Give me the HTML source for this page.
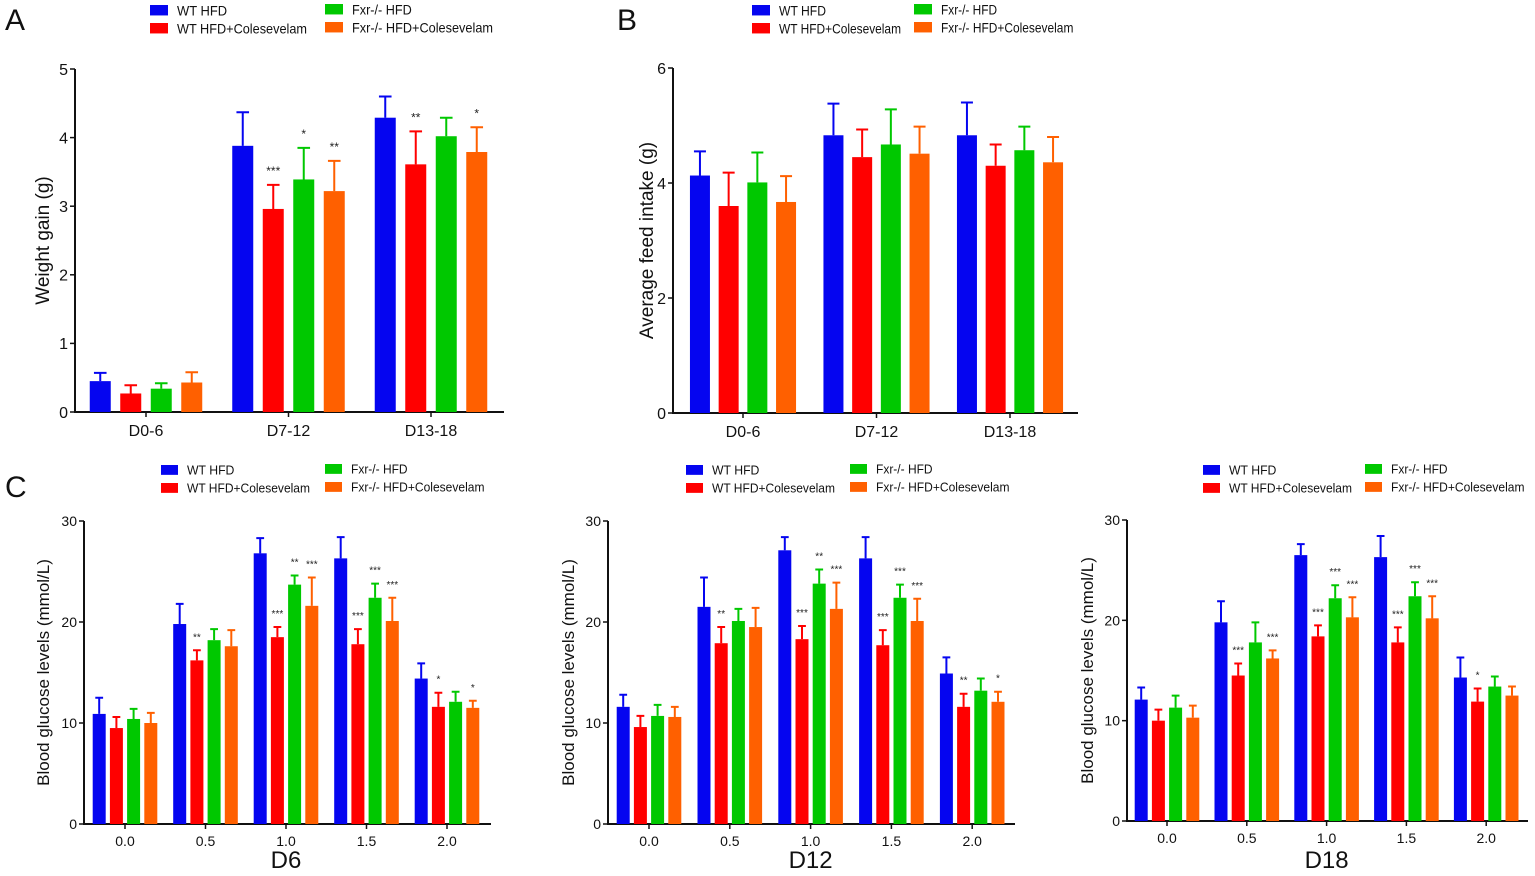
<!DOCTYPE html>
<html><head><meta charset="utf-8"><style>
html,body{margin:0;padding:0;background:#fff;}
svg{display:block;font-family:"Liberation Sans",Arial,sans-serif;}
</style></head><body>
<svg id="fig" width="1535" height="876" viewBox="0 0 1535 876" xmlns="http://www.w3.org/2000/svg"></svg>
<script>
const seriesNames = ["WT HFD","WT HFD+Colesevelam","Fxr-/- HFD","Fxr-/- HFD+Colesevelam"];
const seriesColors = ["#0505f0","#ff0000","#00c800","#ff6000"];

const aCategories = ["D0-6","D7-12","D13-18"];
const aMeans = [[0.45,3.88,4.29],[0.27,2.96,3.61],[0.34,3.39,4.02],[0.43,3.22,3.79]];
const aErrTop = [[0.57,4.37,4.60],[0.39,3.31,4.09],[0.42,3.85,4.29],[0.58,3.66,4.15]];
const aStars = [["","",""],["","***","**"],["","*",""],["","**","*"]];
const aTicks = [0,1,2,3,4,5];

const bCategories = ["D0-6","D7-12","D13-18"];
const bMeans = [[4.13,4.83,4.83],[3.60,4.45,4.30],[4.01,4.67,4.57],[3.67,4.51,4.36]];
const bErrTop = [[4.55,5.38,5.40],[4.18,4.93,4.67],[4.53,5.28,4.98],[4.12,4.98,4.80]];
const bStars = [["","",""],["","",""],["","",""],["","",""]];
const bTicks = [0,2,4,6];

const cCategories = ["0.0","0.5","1.0","1.5","2.0"];
const cTicks = [0,10,20,30];
const d6Means = [[10.9,19.8,26.8,26.3,14.4],[9.5,16.2,18.5,17.8,11.6],[10.4,18.2,23.7,22.4,12.1],[10.0,17.6,21.6,20.1,11.5]];
const d6ErrTop = [[12.5,21.8,28.3,28.4,15.9],[10.6,17.2,19.5,19.3,13.0],[11.4,19.3,24.6,23.8,13.1],[11.0,19.2,24.4,22.4,12.2]];
const d6Stars = [["","","","",""],["","**","***","***","*"],["","","**","***",""],["","","***","***","*"]];
const d12Means = [[11.6,21.5,27.1,26.3,14.9],[9.6,17.9,18.3,17.7,11.6],[10.7,20.1,23.8,22.4,13.2],[10.6,19.5,21.3,20.1,12.1]];
const d12ErrTop = [[12.8,24.4,28.4,28.4,16.5],[10.7,19.5,19.6,19.2,12.9],[11.8,21.3,25.2,23.7,14.4],[11.6,21.4,23.9,22.3,13.1]];
const d12Stars = [["","","","",""],["","**","***","***","**"],["","","**","***",""],["","","***","***","*"]];
const d18Means = [[12.1,19.8,26.5,26.3,14.3],[10.0,14.5,18.4,17.8,11.9],[11.3,17.8,22.2,22.4,13.4],[10.3,16.2,20.3,20.2,12.5]];
const d18ErrTop = [[13.3,21.9,27.6,28.4,16.3],[11.1,15.7,19.5,19.3,13.2],[12.5,19.8,23.5,23.8,14.4],[11.5,17.0,22.3,22.4,13.4]];
const d18Stars = [["","","","",""],["","***","***","***","*"],["","","***","***",""],["","***","***","***",""]];

const svg = document.getElementById('fig');
const NS = "http://www.w3.org/2000/svg";
function mk(tag, attrs, parent){
  const e = document.createElementNS(NS, tag);
  for (const k in attrs) e.setAttribute(k, attrs[k]);
  (parent||svg).appendChild(e); return e;
}
function txt(s, attrs, parent){ const t = mk('text', attrs, parent); t.textContent = s; return t; }

const legendRel = [0.385, 1.0, 0.46, 1.085];

function legend(bx, gx, ty, sq, fs, wLong, key){
  const g = mk('g', {});
  
  
  for (let i=0;i<4;i++){
    const x = i<2 ? bx : gx;
    const y = ty + (i%2===1 ? 18 : 0) - (i>=2 ? 1 : 0);
    const e = mk('g', {}, g);
    
    
    const h = sq*0.58;
    mk('rect', {x:x, y:y, width:sq, height:h, fill:seriesColors[i]}, e);
    txt(seriesNames[i], {x:x+sq+9, y:y+h/2+fs*0.36, 'font-size':fs, fill:'#111',
      textLength:(wLong*legendRel[i]).toFixed(1), lengthAdjust:'spacingAndGlyphs'}, e);
  }
}

function chart(o){
  const g = mk('g', {});
  
  
  const ymax = o.ticks[o.ticks.length-1];
  const yS = v => o.y0 - (o.y0 - o.yTop) * v / ymax;
  const xC = i => o.c0 + i * o.cStep;
  const ax = mk('path', {d:`M${o.ax} ${o.yTop}V${o.y0}H${o.xEnd}`, stroke:'#111', 'stroke-width':2, fill:'none'}, g);
  
  
  o.ticks.forEach(t => {
    mk('line', {x1:o.ax-5, x2:o.ax, y1:yS(t), y2:yS(t), stroke:'#111', 'stroke-width':1.5}, g);
    const l = txt(String(t), {x:o.ax-7, y:yS(t)+o.tfs*0.36, 'font-size':o.tfs, 'text-anchor':'end', fill:'#111'}, g);
    
    
  });
  o.cats.forEach((c,i) => {
    mk('line', {x1:xC(i), x2:xC(i), y1:o.y0, y2:o.y0+5, stroke:'#111', 'stroke-width':1.5}, g);
    const l = txt(c, {x:xC(i), y:o.y0+o.tfs+8, 'font-size':o.tfs, 'text-anchor':'middle', fill:'#111'}, g);
    
    
  });
  const yt = txt(o.ytitle, {x:0, y:0, 'font-size':o.yfs, 'text-anchor':'middle', fill:'#111', transform:`translate(${o.ytx},${(o.y0+o.yTop)/2}) rotate(-90)`}, g);
  
  
  if (o.xtitle){
    const xt = txt(o.xtitle, {x:xC(2), y:o.xty, 'font-size':24, 'text-anchor':'middle', fill:'#111'}, g);
    
    
  }
  for (let s=0;s<4;s++){
    o.cats.forEach((c,i) => {
      const cx = xC(i) + (s-1.5)*o.bStep;
      const top = yS(o.means[s][i]);
      const bar = mk('rect', {x:cx-o.bw/2, y:top, width:o.bw, height:o.y0-top, fill:seriesColors[s]}, g);
      
      
      const et = yS(o.err[s][i]);
      const eb = mk('path', {d:`M${cx} ${top}V${et}M${cx-o.bw*0.3} ${et}H${cx+o.bw*0.3}`, stroke:seriesColors[s], 'stroke-width':2, fill:'none'}, g);
      
      
      if (o.stars[s][i]){
        const st = txt(o.stars[s][i], {x:cx, y:et-10, 'font-size':o.sfs, 'text-anchor':'middle', fill:'#222'}, g);
        
        
      }
    });
  }
}

function panelLetter(s,x,y){
  const t = txt(s, {x:x, y:y, 'font-size':30, fill:'#111'});
  
  
}

panelLetter('A', 5, 30); panelLetter('B', 617, 30); panelLetter('C', 5, 497);

legend(150, 325, 5, 18, 14, 130, 'a');
chart({key:'a', cats:aCategories, means:aMeans, err:aErrTop, stars:aStars, ticks:aTicks,
  ax:75, y0:412, yTop:69, xEnd:504, c0:146, cStep:142.5, bw:21, bStep:30.5,
  tfs:16, yfs:19, ytitle:'Weight gain (g)', ytx:49, sfs:12});

legend(752, 914, 5, 18, 14, 122, 'b');
chart({key:'b', cats:bCategories, means:bMeans, err:bErrTop, stars:bStars, ticks:bTicks,
  ax:673, y0:413, yTop:68, xEnd:1078, c0:743, cStep:133.5, bw:20, bStep:28.7,
  tfs:16, yfs:19, ytitle:'Average feed intake (g)', ytx:653, sfs:12});

legend(161, 325, 465, 17, 13, 123, 'd6');
chart({key:'d6', cats:cCategories, means:d6Means, err:d6ErrTop, stars:d6Stars, ticks:cTicks,
  ax:84, y0:824, yTop:521, xEnd:491, c0:125, cStep:80.5, bw:13, bStep:17.2,
  tfs:14, yfs:17, ytitle:'Blood glucose levels (mmol/L)', ytx:49, xtitle:'D6', xty:868, sfs:10});

legend(686, 850, 465, 17, 13, 123, 'd12');
chart({key:'d12', cats:cCategories, means:d12Means, err:d12ErrTop, stars:d12Stars, ticks:cTicks,
  ax:608, y0:824, yTop:521, xEnd:1015, c0:649, cStep:80.8, bw:13, bStep:17.2,
  tfs:14, yfs:17, ytitle:'Blood glucose levels (mmol/L)', ytx:574, xtitle:'D12', xty:868, sfs:10});

legend(1203, 1365, 465, 17, 13, 123, 'd18');
chart({key:'d18', cats:cCategories, means:d18Means, err:d18ErrTop, stars:d18Stars, ticks:cTicks,
  ax:1127, y0:821, yTop:520, xEnd:1528, c0:1167, cStep:79.8, bw:13, bStep:17.2,
  tfs:14, yfs:17, ytitle:'Blood glucose levels (mmol/L)', ytx:1093, xtitle:'D18', xty:868, sfs:10});
</script>
</body></html>
